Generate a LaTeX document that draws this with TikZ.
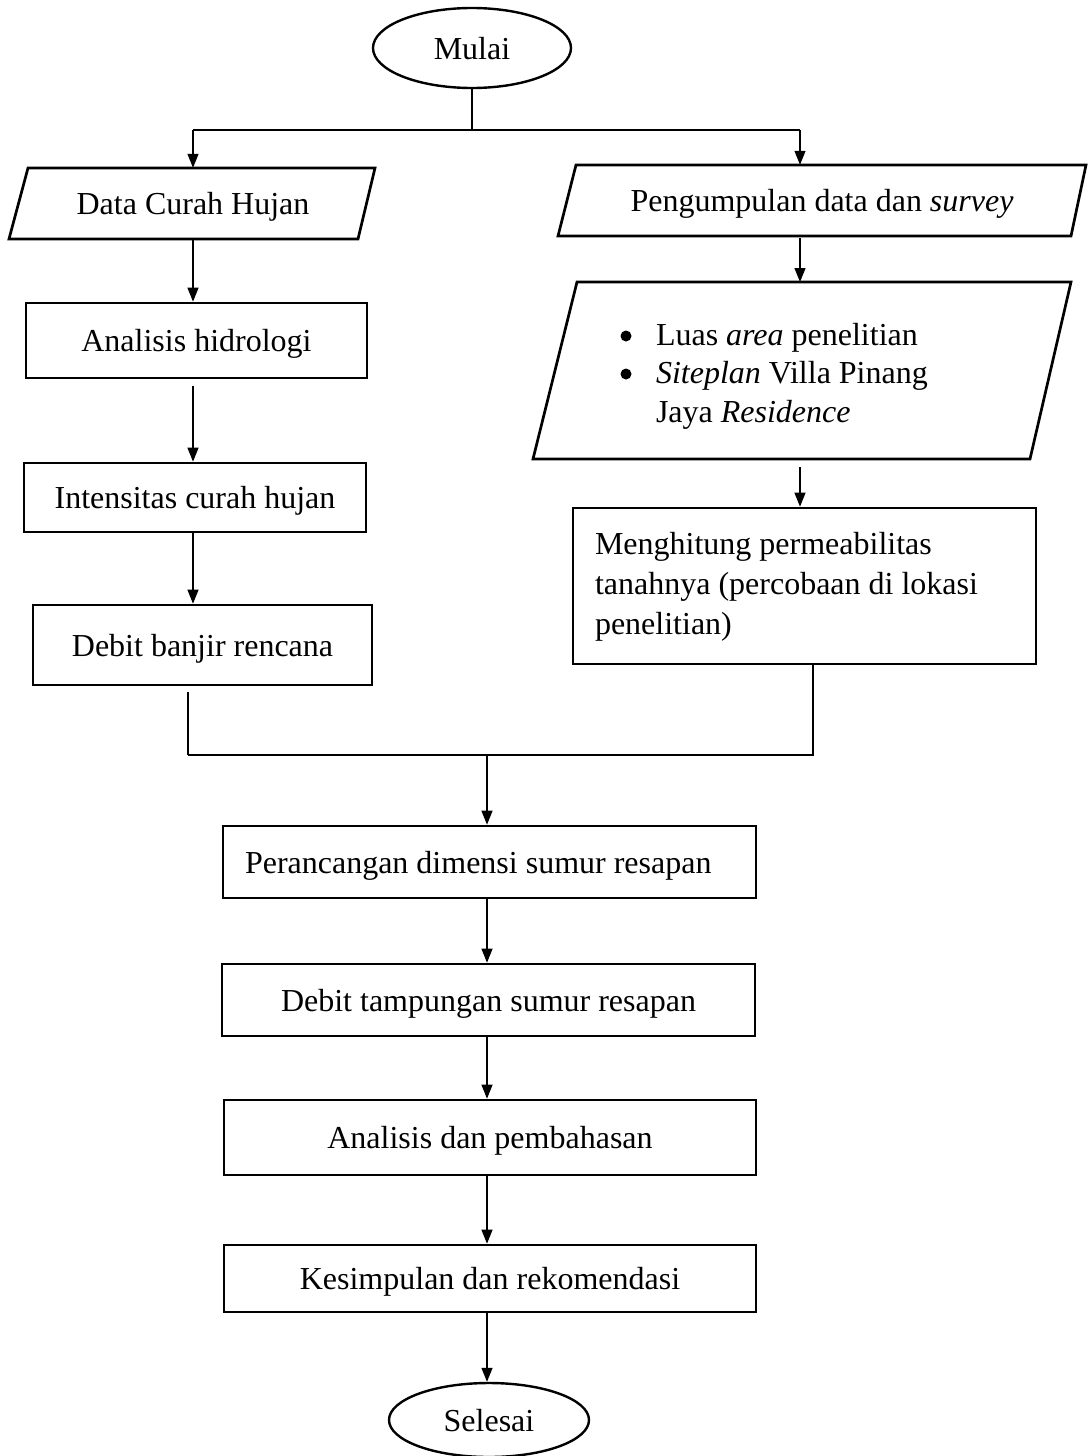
\documentclass[tikz,border=0pt]{standalone}
\usepackage{fontspec}
\setmainfont{Liberation Serif}
\usetikzlibrary{arrows.meta,shapes.geometric,calc}
\begin{document}
\begin{tikzpicture}[x=1pt,y=-1pt,
  txt/.style={inner sep=0pt, font=\fontsize{32}{40}\selectfont},
  one/.style={txt, text height=25pt, text depth=3pt},
  box/.style={one, draw, line width=2.7pt, rectangle},
  term/.style={one, draw, line width=2.4pt, ellipse},
  para/.style={draw, line width=2.7pt, line join=miter},
  conn/.style={line width=1.3pt},
  arr/.style={conn, -{Triangle[length=14pt,width=11pt]}}]
\useasboundingbox (0,0) rectangle (1088,1456);

% start
\node[term, minimum width=198pt, minimum height=80pt] (start) at (472,48) {Mulai};
\coordinate (tl) at (193,130);
\coordinate (tm) at (472,130);
\coordinate (tr) at (800,130);

% left column
\draw[para] (28,168) -- (375,168) -- (358,239) -- (9,239) -- cycle;
\node[one, minimum height=71pt] (dch) at (193,203.5) {Data Curah Hujan};
\node[box, minimum width=341pt, minimum height=75pt] (ana) at (196.5,340.5) {Analisis hidrologi};
\node[box, minimum width=342pt, minimum height=69pt] (int) at (195,497.5) {Intensitas curah hujan};
\node[box, minimum width=339pt, minimum height=80pt] (deb) at (202.5,645) {Debit banjir rencana};

% right column
\draw[para] (576,165) -- (1086,165) -- (1071,236) -- (558,236) -- cycle;
\node[one, minimum height=71pt] (peng) at (822,200.5) {Pengumpulan data dan \textit{survey}};
\draw[para] (577,282) -- (1071,282) -- (1030,459) -- (533,459) -- cycle;
\coordinate (bulT) at (800,282);
\coordinate (bulB) at (800,459);
\node[txt, font=\fontsize{32}{38.5}\selectfont] (bul) at (802,376)
  {\makebox[366pt][l]{\begin{tabular}{@{}l@{}}
   \hspace*{37pt}Luas \textit{area} penelitian\\
   \hspace*{37pt}\textit{Siteplan} Villa Pinang\\
   \hspace*{37pt}Jaya \textit{Residence}\end{tabular}}};
\fill (626,336) circle (5.5pt);
\fill (626,374) circle (5.5pt);
\node[txt, draw, line width=2.7pt, minimum width=463pt, minimum height=156pt, inner xsep=22pt] (hit) at (804.5,586)
  {\makebox[419pt][l]{\begin{tabular}{@{}l@{}}Menghitung permeabilitas\\ tanahnya (percobaan di lokasi\\ penelitian)\end{tabular}}};

% join
\coordinate (jl) at (188,755);
\coordinate (jm) at (487,755);
\coordinate (jr) at (813,755);

% lower column
\node[box, minimum width=533pt, minimum height=72pt, inner xsep=22pt] (per) at (489.5,862) {\makebox[489pt][l]{Perancangan dimensi sumur resapan}};
\node[box, minimum width=533pt, minimum height=72pt] (tam) at (488.5,1000) {Debit tampungan sumur resapan};
\node[box, minimum width=532pt, minimum height=75pt] (anb) at (490,1137.5) {Analisis dan pembahasan};
\node[box, minimum width=532pt, minimum height=67pt] (kes) at (490,1278.5) {Kesimpulan dan rekomendasi};
\node[term, minimum width=200pt, minimum height=74pt] (fin) at (489,1420) {Selesai};

% connectors
\draw[conn] (start.south) -- (tm);
\draw[conn] (tl) -- (tr);
\draw[arr] (tl) -- (dch.north);
\draw[arr] (tr) -- (tr |- peng.north);
\draw[arr] (dch.south) -- (dch.south |- ana.north);
\draw[arr, shorten <=7pt] (ana.south -| dch) -- (int.north -| dch);
\draw[arr] (int.south -| dch) -- (deb.north -| dch);
\draw[arr, shorten <=2pt] (peng.south -| tr) -- (bulT);
\draw[arr, shorten <=8pt] (bulB) -- (hit.north -| tr);
\draw[conn, shorten <=6pt] (deb.south -| jl) -- (jl);
\draw[conn] (jl) -- (jr) -- (jr |- hit.south);
\draw[arr] (jm) -- (jm |- per.north);
\draw[arr] (per.south -| jm) -- (tam.north -| jm);
\draw[arr] (tam.south -| jm) -- (anb.north -| jm);
\draw[arr] (anb.south -| jm) -- (kes.north -| jm);
\draw[arr] (kes.south -| jm) -- (fin.north -| jm);
\end{tikzpicture}
\end{document}
